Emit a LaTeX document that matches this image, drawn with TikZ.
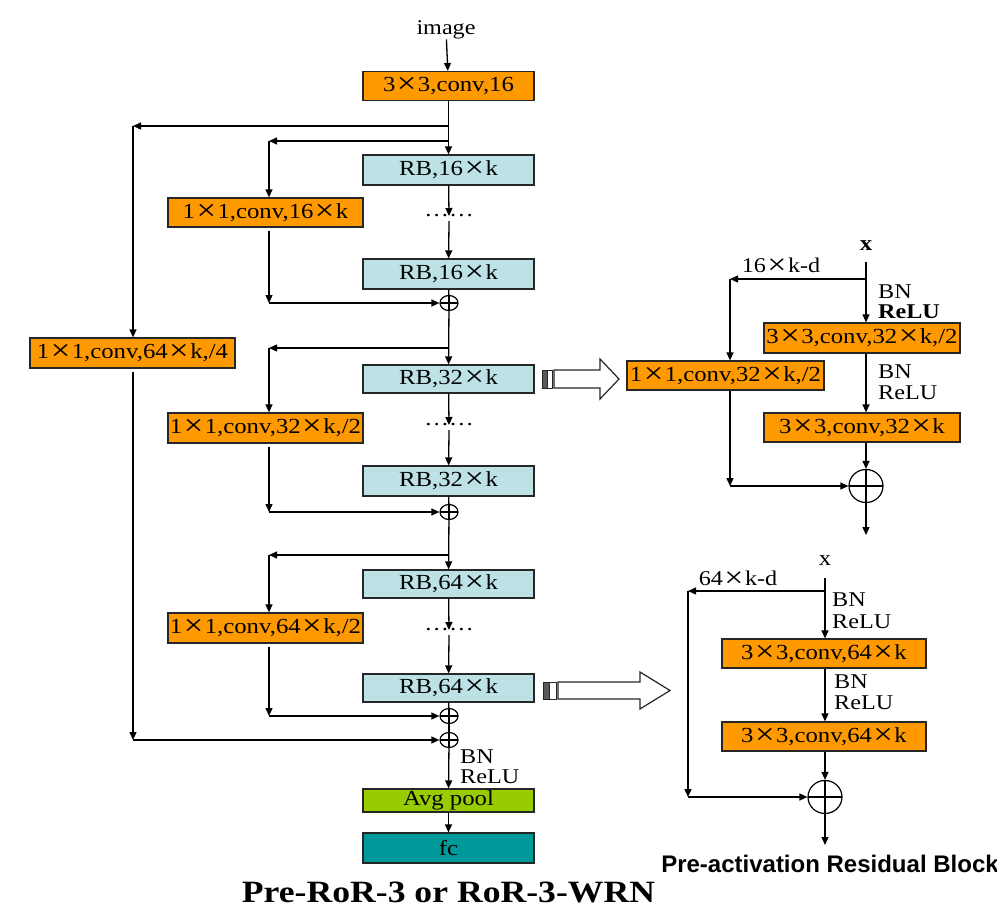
\documentclass[tikz,border=0pt]{standalone}
\usepackage{fontspec}
\setmainfont{Liberation Serif}[FakeStretch=1.15]
\setsansfont{Liberation Sans}
\usetikzlibrary{arrows.meta,shapes.geometric,calc}
\definecolor{orangeC}{RGB}{255,153,0}
\definecolor{rbC}{RGB}{188,226,230}
\definecolor{avgC}{RGB}{153,204,0}
\definecolor{fcC}{RGB}{0,153,153}
\newcommand{\X}{\kern1.5pt\raisebox{-0.1em}{\scalebox{1.4}{×}}\kern1.5pt}
\begin{document}
\begin{tikzpicture}[x=1pt,y=-1pt,
  every node/.style={font=\fontsize{21.5}{23}\selectfont},
  box/.style={draw=black!85, line width=1.2pt, inner sep=0pt, minimum height=29pt},
  obox/.style={box, fill=orangeC},
  rbbox/.style={box, fill=rbC, minimum width=171pt},
  ln/.style={line width=1.3pt},
  arr/.style={ln, -{Triangle[length=8pt,width=7pt]}},
  plus/.style={ellipse, draw, line width=1.2pt, inner sep=0pt, minimum width=18pt, minimum height=15pt,
    path picture={\draw[line width=1.2pt] (path picture bounding box.north) -- (path picture bounding box.south) (path picture bounding box.west) -- (path picture bounding box.east);}},
  bigplus/.style={plus, minimum width=34pt, minimum height=33pt},
  lbl/.style={inner sep=0pt, anchor=west, align=left, font=\fontsize{21}{23}\selectfont},
  dotsn/.style={inner sep=0pt},
  hollow/.style={draw=black!85, line width=1.2pt, fill=white},
]
\useasboundingbox (0,0) rectangle (997,908);

% ---------------- main column ----------------
\node[inner sep=0pt, font=\fontsize{21}{23}\selectfont] (img) at (446,30) {image};
\node[obox, minimum width=171pt] (c0) at (448.5,86) {3\X3,conv,16};
\node[rbbox, minimum height=30pt] (rb1) at (448.5,170) {RB,16\X k};
\node[dotsn] (d1) at (449,216) {……};
\node[rbbox, minimum height=30pt] (rb2) at (448.5,274) {RB,16\X k};
\node[plus] (p1) at (449,303) {};
\node[rbbox, minimum height=28pt] (rb3) at (448.5,379) {RB,32\X k};
\node[dotsn] (d2) at (449,425) {……};
\node[rbbox, minimum height=30pt] (rb4) at (448.5,481) {RB,32\X k};
\node[plus] (p2) at (449,512) {};
\node[rbbox, minimum height=28pt] (rb5) at (448.5,584) {RB,64\X k};
\node[dotsn] (d3) at (449,630) {……};
\node[rbbox, minimum height=28pt] (rb6) at (448.5,688) {RB,64\X k};
\node[plus] (p3) at (449,716) {};
\node[plus] (p4) at (449,740) {};
\node[lbl] (bn0) at (460,757) {BN};
\node[lbl] (re0) at (460,777) {ReLU};
\node[box, fill=avgC, minimum width=171pt, minimum height=23pt] (avg) at (448.5,800.5) {Avg pool};
\node[box, fill=fcC, minimum width=171pt, minimum height=30pt] (fc) at (448.5,848) {fc};
\node (title) at (448.5,892) {\fontsize{31}{33}\selectfont\bfseries Pre-RoR-3 or RoR-3-WRN};

% shortcut boxes
\node[obox, minimum width=205pt, minimum height=30pt] (sc0) at (132.5,353) {1\X1,conv,64\X k,/4};
\node[obox, minimum width=195pt] (sc1) at (265.5,212.5) {1\X1,conv,16\X k};
\node[obox, minimum width=195pt, minimum height=30pt] (sc2) at (265.5,428) {1\X1,conv,32\X k,/2};
\node[obox, minimum width=195pt, minimum height=30pt] (sc3) at (265.5,628) {1\X1,conv,64\X k,/2};

% branch coordinates
\coordinate (s0) at (449,126);  \coordinate (k0) at (133,126);  \coordinate (m0) at (133,740);
\coordinate (s1) at (449,141);  \coordinate (k1) at (269,141);  \coordinate (m1) at (269,303);
\coordinate (s2) at (449,348);  \coordinate (k2) at (269,348);  \coordinate (m2) at (269,512);
\coordinate (s3) at (449,555);  \coordinate (k3) at (269,555);  \coordinate (m3) at (269,716);

% main connectors
\draw[arr] (img) -- (c0);
\draw[arr] (c0) -- (rb1);
\draw[arr] (rb1) -- (d1.center);
\draw[arr] ([yshift=-5pt]d1.center) -- (rb2);
\draw[ln] (rb2) -- (p1);
\draw[arr] (p1) -- (rb3);
\draw[arr] (rb3) -- (d2.center);
\draw[arr] ([yshift=-5pt]d2.center) -- (rb4);
\draw[ln] (rb4) -- (p2);
\draw[arr] (p2) -- (rb5);
\draw[arr] (rb5) -- (d3.center);
\draw[arr] ([yshift=-5pt]d3.center) -- (rb6);
\draw[ln] (rb6) -- (p3);
\draw[ln] (p3) -- (p4);
\draw[arr] (p4) -- (avg);
\draw[arr] (avg) -- (fc);

% shortcut connectors
\draw[arr] (s0) -- (k0);
\draw[arr] (k0) -- (k0 |- sc0.north);
\draw[arr] ([yshift=-3pt]k0 |- sc0.south) -- (m0);
\draw[arr] (m0) -- (p4);
\draw[arr] (s1) -- (k1);
\draw[arr] (k1) -- (k1 |- sc1.north);
\draw[arr] ([yshift=-3pt]k1 |- sc1.south) -- (m1);
\draw[arr] (m1) -- (p1);
\draw[arr] (s2) -- (k2);
\draw[arr] (k2) -- (k2 |- sc2.north);
\draw[arr] ([yshift=-3pt]k2 |- sc2.south) -- (m2);
\draw[arr] (m2) -- (p2);
\draw[arr] (s3) -- (k3);
\draw[arr] (k3) -- (k3 |- sc3.north);
\draw[arr] ([yshift=-3pt]k3 |- sc3.south) -- (m3);
\draw[arr] (m3) -- (p3);

% hollow arrows
\filldraw[draw=black!85, fill=black!65, line width=1pt] (542,370) rectangle (547,388);
\draw[hollow, line width=1pt] (547,370) rectangle (552,388);
\draw[hollow] (554,370) -- (600,370) -- (600,359) -- (619,379) -- (600,399) -- (600,388) -- (554,388) -- cycle;
\filldraw[draw=black!85, fill=black!65, line width=1pt] (543,682) rectangle (549,699);
\draw[hollow, line width=1pt] (549,682) rectangle (556,699);
\draw[hollow] (558,682) -- (640,682) -- (640,672) -- (670,690.5) -- (640,709) -- (640,699) -- (558,699) -- cycle;

% ---------------- right block 1 ----------------
\node[inner sep=0pt] (x1) at (866,246) {\bfseries x};
\node[obox, minimum width=196pt, minimum height=30pt] (r1a) at (862,338) {3\X3,conv,32\X k,/2};
\node[obox, minimum width=197pt] (r1s) at (725.5,375.5) {1\X1,conv,32\X k,/2};
\node[obox, minimum width=196pt] (r1b) at (862,427.5) {3\X3,conv,32\X k};
\node[bigplus] (r1p) at (866,486) {};
\coordinate (t1) at (866,262);
\coordinate (q1) at (866,279);
\coordinate (u1) at (730,279);
\coordinate (v1) at (730,486);
\coordinate (o1) at (866,535);
\node[inner sep=0pt, font=\fontsize{21}{23}\selectfont] (l1) at (781,266) {16\X k-d};
\node[lbl] (bn1) at (878,292) {BN};
\node[lbl] (re1) at (878,312) {\bfseries ReLU};
\node[lbl] (bn2) at (878,372) {BN};
\node[lbl] (re2) at (878,393) {ReLU};
\draw[arr] (t1) -- (t1 |- r1a.north);
\draw[arr] (q1) -- (u1);
\draw[arr] (u1) -- (u1 |- r1s.north);
\draw[arr] (u1 |- r1s.south) -- (v1);
\draw[arr] (v1) -- (r1p);
\draw[arr] (t1 |- r1a.south) -- (t1 |- r1b.north);
\draw[arr] (t1 |- r1b.south) -- (r1p);
\draw[arr] (r1p) -- (o1);

% ---------------- right block 2 ----------------
\node[inner sep=0pt] (x2) at (825,561) {x};
\node[obox, minimum width=204pt] (r2a) at (824,653.5) {3\X3,conv,64\X k};
\node[obox, minimum width=204pt] (r2b) at (824,736.5) {3\X3,conv,64\X k};
\node[bigplus] (r2p) at (825,797) {};
\coordinate (t2) at (825,578);
\coordinate (q2) at (825,591);
\coordinate (u2) at (688,591);
\coordinate (v2) at (688,797);
\coordinate (o2) at (825,845);
\node[inner sep=0pt, font=\fontsize{21}{23}\selectfont] (l2) at (738,579) {64\X k-d};
\node[lbl] (bn3) at (832,600) {BN};
\node[lbl] (re3) at (832,622) {ReLU};
\node[lbl] (bn4) at (834,682) {BN};
\node[lbl] (re4) at (834,703) {ReLU};
\draw[arr] (t2) -- (t2 |- r2a.north);
\draw[arr] (q2) -- (u2);
\draw[arr] (u2) -- (v2);
\draw[arr] (v2) -- (r2p);
\draw[arr] (t2 |- r2a.south) -- (t2 |- r2b.north);
\draw[arr] (t2 |- r2b.south) -- (r2p);
\draw[arr] (r2p) -- (o2);
\node (title2) at (830,864) {\fontsize{24}{26}\selectfont\sffamily\bfseries Pre-activation Residual Block};
\end{tikzpicture}
\end{document}
